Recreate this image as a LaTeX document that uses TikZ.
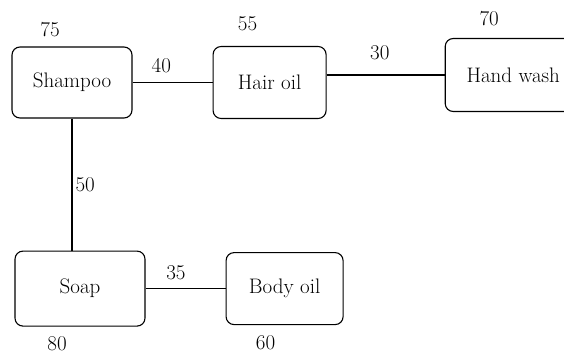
\documentclass[tikz,border=0pt]{standalone}
\usepackage{tikz}
\usetikzlibrary{positioning}
\tikzstyle{Box} = [
draw,
line width=1.1pt,
rounded corners=8pt,
minimum width=118pt,
minimum height=72pt,
font=\fontsize{21}{24}\selectfont]
\tikzstyle{Cost} = [
inner sep=3pt,
font=\fontsize{21}{24}\selectfont]
\tikzstyle{Link} = [
line width=1.1pt]

\begin{document}
\begin{tikzpicture}
    \useasboundingbox (0,0) rectangle (564pt,354pt);
    \clip (0,0) rectangle (564pt,354pt);
    \node [Box, minimum width=120pt, minimum height=71pt] (1) at (72pt,271.5pt) {Shampoo};
    \node [Box, minimum width=113pt, right =80pt of 1] (2) {Hair oil};
    \node [Box, minimum width=136pt, minimum height=73pt, right =118pt of 2, yshift=7.5pt] (3) {Hand wash};
    \node [Box, minimum width=130pt, minimum height=75pt, below =132pt of 1, xshift=8pt] (4) {Soap};
    \node [Box, minimum width=117pt, right =80pt of 4] (5) {Body oil};

    \node [Cost, above =6pt of 1.north, xshift=-22pt] (c1) {75};
    \node [Cost, above =12pt of 2.north, xshift=-22pt] (c2) {55};
    \node [Cost, above =9pt of 3.north, xshift=-24pt] (c3) {70};
    \node [Cost, below =7pt of 4.south, xshift=-23pt] (c4) {80};
    \node [Cost, below =7pt of 5.south, xshift=-19pt] (c5) {60};

    \draw[Link] (1.east)--(2.west) node[Cost, above, pos=0.36, yshift=6pt] (w12) {40};
    \draw[Link] (3.west -| 2.east)--(3.west) node[Cost, above, pos=0.45, yshift=12pt] (w23) {30};
    \draw[Link] (1.south)--(1.south |- 4.north) node[Cost, right, pos=0.5] (w14) {50};
    \draw[Link] (4.east)--(5.west) node[Cost, above, pos=0.38, yshift=5pt] (w45) {35};
\end{tikzpicture}
\end{document}
